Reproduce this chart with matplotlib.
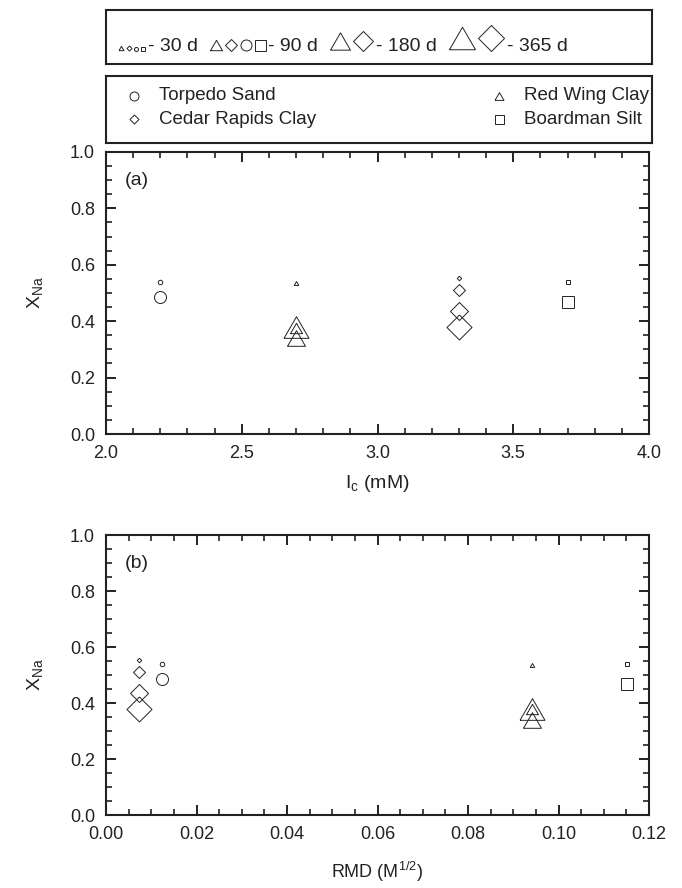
import matplotlib.pyplot as plt
from matplotlib.ticker import MultipleLocator

plt.rcParams['font.family'] = ['Liberation Sans', 'DejaVu Sans']
plt.rcParams['mathtext.default'] = 'regular'

INK = '#222222'

# soils, their concentration Ic (mM) and RMD (M^1/2)
soils = ['Torpedo Sand', 'Cedar Rapids Clay', 'Red Wing Clay', 'Boardman Silt']
ic = [2.2, 3.3, 2.7, 3.7]
rmd = [0.0123, 0.0073, 0.0941, 0.1151]

# exposure times (days)
days = [30, 90, 180, 365]

# X_Na at 30 / 90 / 180 / 365 d, None where not measured
xna_torpedo = [0.54, 0.487, None, None]
xna_cedar = [0.553, 0.509, 0.436, 0.378]
xna_redwing = [0.537, 0.377, 0.339, 0.378]
xna_boardman = [0.538, 0.469, None, None]
xna = [xna_torpedo, xna_cedar, xna_redwing, xna_boardman]

# equilateral triangle and diamond outlines
tri = [(-1, -0.866), (1, -0.866), (0, 0.866), (-1, -0.866)]
dia = [(0, 1), (1, 0), (0, -1), (-1, 0), (0, 1)]
soil_marker = ['o', dia, tri, 's']
# marker size (pixels) for each exposure time
size_px = [4.5, 12, 18, 25]


def mark(ax, x, y, m, s):
    ax.plot([x], [y], linestyle='none', marker=m, markersize=s * 0.72,
            markerfacecolor='none', markeredgecolor=INK, markeredgewidth=0.7,
            clip_on=False)


W, H = 682, 888
fig = plt.figure(figsize=(W / 100, H / 100), dpi=100)


def fbox(x0, y0, x1, y1):
    return [x0 / W, 1 - y1 / H, (x1 - x0) / W, (y1 - y0) / H]


def style(ax):
    for s in ax.spines.values():
        s.set_linewidth(1.5)
        s.set_color(INK)
    ax.tick_params(which='both', direction='in', top=True, right=True,
                   colors=INK, labelcolor=INK, labelsize=13, pad=8)
    ax.tick_params(which='major', length=7, width=1.4)
    ax.tick_params(which='minor', length=4, width=1.2)
    ax.set_ylim(0, 1)
    ax.yaxis.set_major_locator(MultipleLocator(0.2))
    ax.yaxis.set_minor_locator(MultipleLocator(0.05))
    ax.yaxis.set_major_formatter('{x:.1f}')
    ax.set_ylabel('X$_{Na}$', fontsize=14, labelpad=18, color=INK)


def boxaxes(x0, y0, x1, y1):
    # framed panel measured in pixels, y downwards
    a = fig.add_axes(fbox(x0, y0, x1, y1))
    a.set_xlim(0, x1 - x0)
    a.set_ylim(y1 - y0, 0)
    a.set_xticks([])
    a.set_yticks([])
    for s in a.spines.values():
        s.set_linewidth(1.5)
        s.set_color(INK)
    return a


ax1 = fig.add_axes(fbox(106, 152, 649, 434))
ax2 = fig.add_axes(fbox(106, 535, 649, 815))

for i in range(len(soils)):
    for j in range(len(days)):
        if xna[i][j] is None:
            continue
        mark(ax1, ic[i], xna[i][j], soil_marker[i], size_px[j])
        mark(ax2, rmd[i], xna[i][j], soil_marker[i], size_px[j])

style(ax1)
ax1.set_xlim(2.0, 4.0)
ax1.xaxis.set_major_locator(MultipleLocator(0.5))
ax1.xaxis.set_minor_locator(MultipleLocator(0.1))
ax1.xaxis.set_major_formatter('{x:.1f}')
ax1.set_xlabel('I$_c$ (mM)', fontsize=14, color=INK, labelpad=8)
ax1.text(0.035, 0.93, '(a)', transform=ax1.transAxes, fontsize=14,
         va='top', color=INK)

style(ax2)
ax2.set_xlim(0, 0.12)
ax2.xaxis.set_major_locator(MultipleLocator(0.02))
ax2.xaxis.set_minor_locator(MultipleLocator(0.005))
ax2.xaxis.set_major_formatter('{x:.2f}')
ax2.set_xlabel('RMD (M$^{1/2}$)', fontsize=13, color=INK, labelpad=12)
ax2.text(0.035, 0.93, '(b)', transform=ax2.transAxes, fontsize=14,
         va='top', color=INK)

# soil key
key2 = boxaxes(106, 76, 652, 143)
for i, name in enumerate(soils):
    col, row = divmod(i, 2)
    y = 20 + row * 23
    mx = [28, 393][col]
    mark(key2, mx, y, soil_marker[i], 9)
    key2.text(mx + 25, y, name, fontsize=13.5, color=INK, va='center')

# exposure-time key
key1 = boxaxes(106, 10, 652, 64)
groups = [
    ([tri, dia, 'o', 's'], [5, 5, 4, 4]),
    ([tri, dia, 'o', 's'], [12, 12, 11, 11]),
    ([tri, dia], [20, 20]),
    ([tri, dia], [26, 26]),
]
renderer = fig.canvas.get_renderer()
base = 41
x = 12
for (marks, sz), d in zip(groups, days):
    for m, s in zip(marks, sz):
        x += s / 2
        mark(key1, x, base - s / 2, m, s)
        x += s / 2 + 3
    t = key1.text(x, base, '- %d d' % d, fontsize=14, color=INK,
                  va='baseline')
    x += t.get_window_extent(renderer).width + 12

fig.savefig('out.png', dpi=100)
